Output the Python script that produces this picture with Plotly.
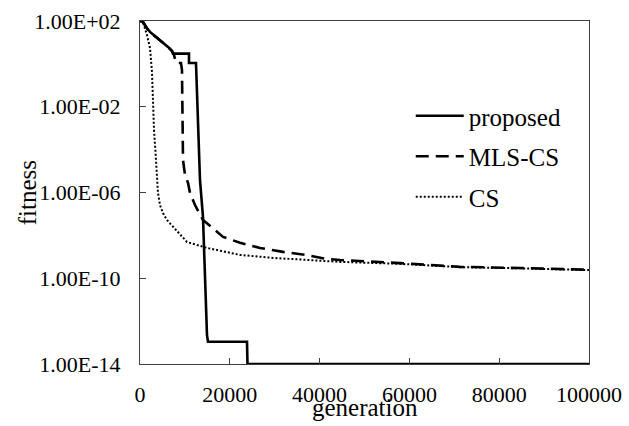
import plotly.graph_objects as go

# ---- data ----
proposed_gen = [0, 670, 1560, 2230, 3300, 4450, 5300, 6240, 7130, 7350, 10910, 10910, 12470,
                12920, 13360, 14030, 14480, 14920, 15140, 23830, 23940, 100000]
proposed_fit = [1e2, 9.0e1, 4.5e1, 3.1e1, 2.0e1, 1.3e1, 9.0, 6.2, 4.0, 3.0, 3.0, 1.1, 1.1,
                2.4e-3, 3.8e-6, 7.2e-8, 8.3e-11, 2.2e-13, 1.1e-13, 1.1e-13, 1e-14, 1e-14]

mls_gen = [0, 670, 1560, 2230, 3300, 4450, 5300, 6240, 7130, 7600, 8020, 9130, 9350, 9470,
           9580, 10020, 10690, 11140, 12250, 14030, 18490, 22270, 26730, 31850, 37190,
           41650, 44540, 57910, 71270, 84630, 100000]
mls_fit = [1e2, 9.0e1, 4.5e1, 3.1e1, 2.0e1, 1.3e1, 9.0, 6.2, 4.0, 2.5, 1.1, 1.1, 5.1e-1,
           7.1e-3, 3.3e-5, 6.6e-6, 2.8e-6, 9.5e-7, 2.6e-7, 5.2e-8, 8.5e-9, 4.5e-9,
           2.6e-9, 1.7e-9, 1.2e-9, 7.9e-10, 7.1e-10, 5.1e-10, 3.4e-10, 3.0e-10, 2.5e-10]

cs_gen = [0, 670, 1560, 2230, 2670, 2900, 3120, 3560, 4010, 4450, 5120, 6010, 7350,
          8910, 10470, 14920, 22270, 29620, 37190, 44540, 57910, 71270, 84630, 100000]
cs_fit = [1e2, 8.9e1, 2.2e1, 5.5, 4.2e-1, 2.1e-2, 8.3e-4, 3.3e-5, 9.5e-7, 2.6e-7,
          1.1e-7, 5.2e-8, 2.5e-8, 1.05e-8, 4.9e-9, 2.6e-9, 1.23e-9, 8.9e-10, 7.1e-10,
          5.8e-10, 4.7e-10, 3.3e-10, 2.9e-10, 2.4e-10]

y_tickvals = [1e2, 1e-2, 1e-6, 1e-10, 1e-14]
y_ticktext = ["1.00E+02", "1.00E-02", "1.00E-06", "1.00E-10", "1.00E-14"]
x_tickvals = [0, 20000, 40000, 60000, 80000, 100000]
x_ticktext = ["0", "20000", "40000", "60000", "80000", "100000"]

FONT = "Times New Roman"

fig = go.Figure()
fig.add_trace(go.Scatter(x=proposed_gen, y=proposed_fit, mode="lines", name="proposed",
                         legendgroup="a", line=dict(color="black", width=2.6)))
fig.add_trace(go.Scatter(x=mls_gen, y=mls_fit, mode="lines", name="MLS-CS",
                         legendgroup="b", line=dict(color="black", width=2.6, dash="13px,7px")))
fig.add_trace(go.Scatter(x=cs_gen, y=cs_fit, mode="lines", name="CS",
                         legendgroup="c", line=dict(color="black", width=2.0, dash="2px,2px")))

fig.update_layout(
    width=629, height=426,
    margin=dict(l=140, r=40, t=21, b=62, autoexpand=False),
    paper_bgcolor="white", plot_bgcolor="white",
    font=dict(family=FONT, color="black", size=22),
    showlegend=True,
    legend=dict(x=0.603, y=0.79, xanchor="left", yanchor="top",
                font=dict(size=25, family=FONT), traceorder="grouped",
                tracegroupgap=5, itemwidth=48, bgcolor="rgba(0,0,0,0)"),
    annotations=[
        dict(text="generation", xref="paper", yref="paper", x=0.5, y=-0.128,
             xanchor="center", yanchor="middle", showarrow=False,
             font=dict(size=25, family=FONT)),
        dict(text="fitness", xref="paper", yref="paper", x=-0.25, y=0.5,
             xanchor="center", yanchor="middle", showarrow=False, textangle=-90,
             font=dict(size=25, family=FONT)),
    ],
)
fig.update_xaxes(range=[0, 100000], tickvals=x_tickvals, ticktext=x_ticktext,
                 ticks="inside", ticklen=6, tickcolor="#404040", showgrid=False, zeroline=False,
                 showline=True, linecolor="#404040", linewidth=1, mirror=True,
                 ticklabelstandoff=11, automargin=False)
fig.update_yaxes(type="log", range=[-14, 2], tickvals=y_tickvals, ticktext=y_ticktext,
                 ticks="inside", ticklen=6, tickcolor="#404040", showgrid=False, zeroline=False,
                 showline=True, linecolor="#404040", linewidth=1, mirror=True,
                 ticklabelstandoff=14, automargin=False)

fig.write_html("out.html", config={"displayModeBar": False},
               post_script="document.body.style.margin='0';")
